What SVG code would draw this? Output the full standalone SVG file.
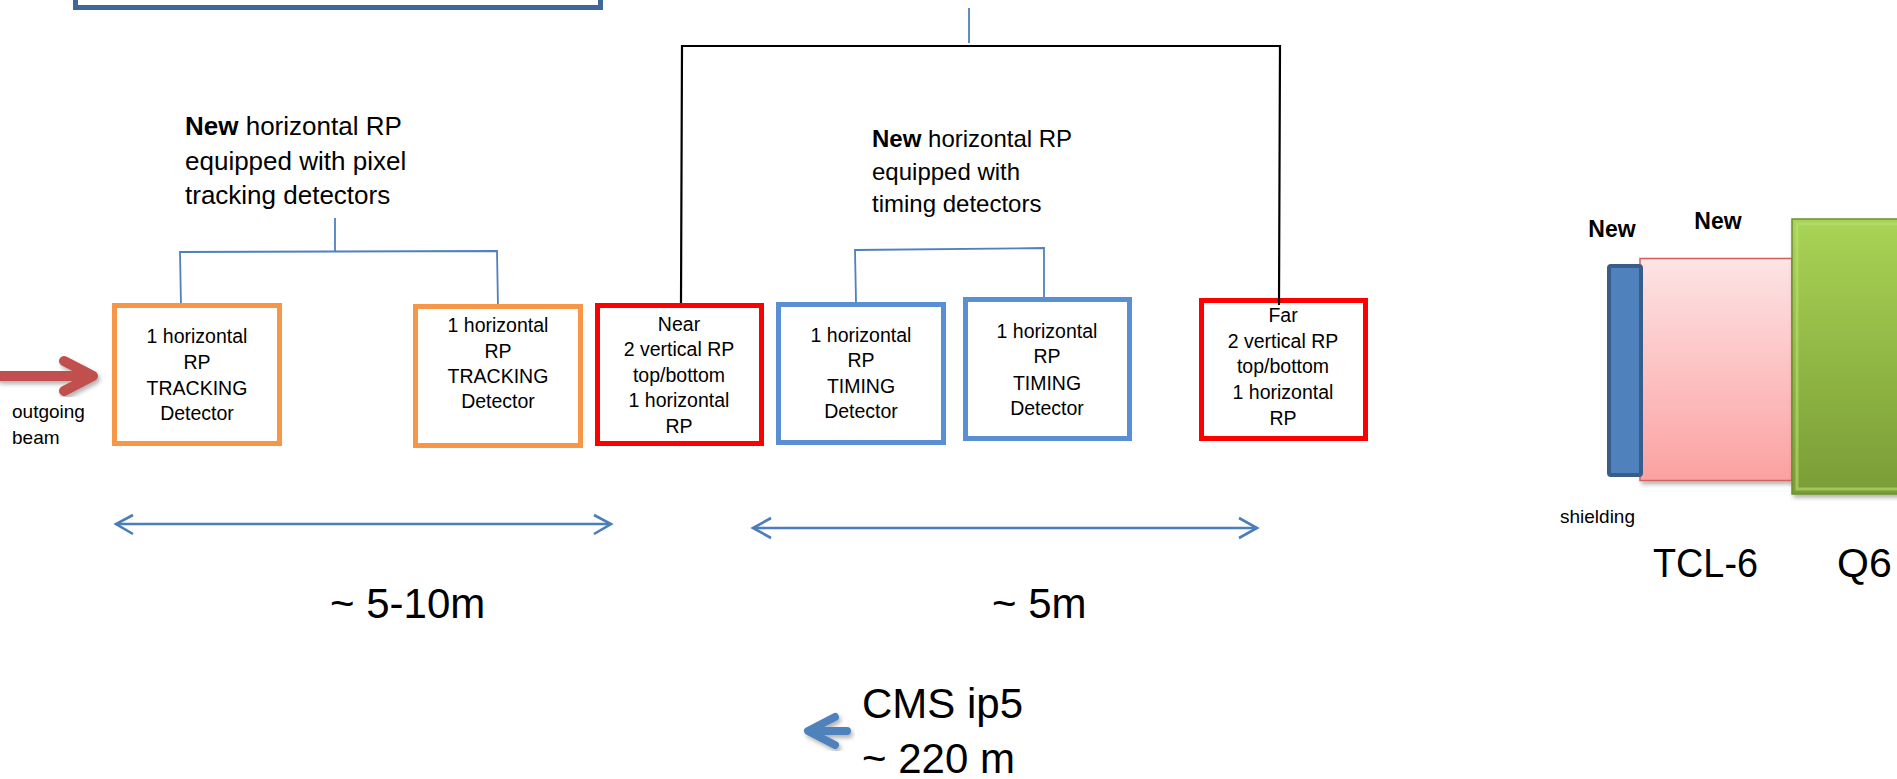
<svg xmlns="http://www.w3.org/2000/svg" width="1897" height="779" viewBox="0 0 1897 779">
<defs>
<style>
text{font-family:"Liberation Sans",Arial,sans-serif;fill:#000}
.bx{font-size:19.5px;text-anchor:middle}
.sm{font-size:19px}
.big{font-size:42px}
.box{fill:#fff;stroke-width:5}
.trk{stroke:#f79646}
.red{stroke:#ff0000}
.tim{stroke:#5a8fd4}
.conn{fill:none;stroke:#4f81bd;stroke-width:1.8}
.blk{fill:none;stroke:#000;stroke-width:2.2}
.dim{fill:none;stroke:#4a7ebb;stroke-width:2.6}
</style>
<linearGradient id="pink" x1="0" y1="0" x2="0" y2="1">
<stop offset="0" stop-color="#fde4e5"/>
<stop offset="1" stop-color="#fca1a1"/>
</linearGradient>
<linearGradient id="green" x1="0" y1="0" x2="0" y2="1">
<stop offset="0" stop-color="#a8d455"/>
<stop offset="1" stop-color="#7b9c36"/>
</linearGradient>
<filter id="sh" x="-20%" y="-20%" width="140%" height="140%">
<feDropShadow dx="2" dy="3" stdDeviation="2" flood-color="#000" flood-opacity="0.3"/>
</filter>
</defs>

<g id="top-box">
<rect x="75.5" y="-20" width="525" height="27.5" fill="none" stroke="#40669b" stroke-width="5"/>
</g>

<g id="connectors">
<line class="conn" x1="969" y1="8" x2="969" y2="43"/>
<polyline class="blk" points="681,303 682,46 1280,46 1279,304"/>
<line class="conn" x1="335" y1="218" x2="335" y2="251"/>
<polyline class="conn" points="181,306 180,252 497,251 498,307"/>
<polyline class="conn" points="856,302 855,250 1044,248 1044,297"/>
</g>

<g id="heading-tracking">
<text x="185" y="135" style="font-size:26px"><tspan font-weight="bold">New</tspan> horizontal RP</text>
<text x="185" y="170" style="font-size:26px">equipped with pixel</text>
<text x="185" y="204" style="font-size:26px">tracking detectors</text>
</g>

<g id="heading-timing">
<text x="872" y="147" style="font-size:24px"><tspan font-weight="bold">New</tspan> horizontal RP</text>
<text x="872" y="180" style="font-size:24px">equipped with</text>
<text x="872" y="212" style="font-size:24px">timing detectors</text>
</g>

<g id="beam">
<path d="M0,376 H88 M64,361 L93,376 L64,391" fill="none" stroke="#c0504d" stroke-width="10" stroke-linecap="round" stroke-linejoin="round" filter="url(#sh)"/>
<text class="sm" x="12" y="418">outgoing</text>
<text class="sm" x="12" y="444">beam</text>
</g>

<g id="rp-tracking-1">
<rect class="box trk" x="114.5" y="305.5" width="165" height="138"/>
<text class="bx" x="197" y="343">1 horizontal</text>
<text class="bx" x="197" y="369">RP</text>
<text class="bx" x="197" y="395">TRACKING</text>
<text class="bx" x="197" y="420">Detector</text>
</g>

<g id="rp-tracking-2">
<rect class="box trk" x="415.5" y="306.5" width="165" height="139"/>
<text class="bx" x="498" y="332">1 horizontal</text>
<text class="bx" x="498" y="358">RP</text>
<text class="bx" x="498" y="383">TRACKING</text>
<text class="bx" x="498" y="408">Detector</text>
</g>

<g id="rp-near">
<rect class="box red" x="597.5" y="305.5" width="164" height="138"/>
<text class="bx" x="679" y="331">Near</text>
<text class="bx" x="679" y="356">2 vertical RP</text>
<text class="bx" x="679" y="382">top/bottom</text>
<text class="bx" x="679" y="407">1 horizontal</text>
<text class="bx" x="679" y="433">RP</text>
</g>

<g id="rp-timing-1">
<rect class="box tim" x="778.5" y="304.5" width="165" height="138"/>
<text class="bx" x="861" y="342">1 horizontal</text>
<text class="bx" x="861" y="367">RP</text>
<text class="bx" x="861" y="393">TIMING</text>
<text class="bx" x="861" y="418">Detector</text>
</g>

<g id="rp-timing-2">
<rect class="box tim" x="965.5" y="299.5" width="164" height="139"/>
<text class="bx" x="1047" y="338">1 horizontal</text>
<text class="bx" x="1047" y="363">RP</text>
<text class="bx" x="1047" y="390">TIMING</text>
<text class="bx" x="1047" y="415">Detector</text>
</g>

<g id="rp-far">
<rect class="box red" x="1201.5" y="300.5" width="164" height="138"/>
<line class="blk" x1="1279" y1="298" x2="1279" y2="305"/>
<text class="bx" x="1283" y="322">Far</text>
<text class="bx" x="1283" y="348">2 vertical RP</text>
<text class="bx" x="1283" y="373">top/bottom</text>
<text class="bx" x="1283" y="399">1 horizontal</text>
<text class="bx" x="1283" y="425">RP</text>
</g>

<g id="dim-left">
<line class="dim" x1="116" y1="524" x2="611" y2="524"/>
<polyline class="dim" points="133,515 116,524 133,534"/>
<polyline class="dim" points="594,515 611,524 594,534"/>
<text class="big" x="330" y="618">~ 5-10m</text>
</g>

<g id="dim-right">
<line class="dim" x1="753" y1="528" x2="1257" y2="528"/>
<polyline class="dim" points="771,518 753,528 771,538"/>
<polyline class="dim" points="1239,518 1257,528 1239,538"/>
<text class="big" x="992" y="618">~ 5m</text>
</g>

<g id="cms">
<path d="M847,731 H812 M835,717 L808,731 L835,745" fill="none" stroke="#4f81bd" stroke-width="8" stroke-linecap="round" stroke-linejoin="round" filter="url(#sh)"/>
<text class="big" x="862" y="718">CMS ip5</text>
<text class="big" x="862" y="773">~ 220 m</text>
</g>

<g id="tcl6">
<rect x="1640" y="258.5" width="152" height="222" fill="url(#pink)" stroke="#d2605e" stroke-width="1.5" filter="url(#sh)"/>
<text x="1718" y="229" text-anchor="middle" font-weight="bold" style="font-size:23px">New</text>
<text x="1653" y="577" style="font-size:41px" textLength="105" lengthAdjust="spacingAndGlyphs">TCL-6</text>
</g>

<g id="shielding">
<rect x="1609" y="266" width="32" height="209" rx="2" fill="#4f81bd" stroke="#385d8a" stroke-width="4"/>
<text x="1612" y="237" text-anchor="middle" font-weight="bold" style="font-size:23px">New</text>
<text class="sm" x="1560" y="523">shielding</text>
</g>

<g id="q6">
<rect x="1792" y="219" width="110" height="275" fill="url(#green)" stroke="#6e8f2e" stroke-width="1.5" filter="url(#sh)"/>
<rect x="1797" y="224" width="110" height="265" fill="none" stroke="#b9df73" stroke-opacity="0.6" stroke-width="3"/>
<text x="1837" y="577" style="font-size:41px">Q6</text>
</g>
</svg>
